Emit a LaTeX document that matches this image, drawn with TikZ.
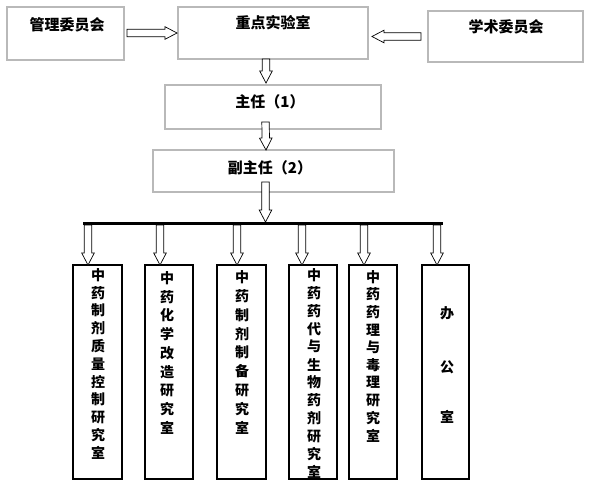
\documentclass[tikz,border=0pt]{standalone}
\usepackage{fontspec}
\newfontfamily\cjk{Noto Sans CJK SC}
\usetikzlibrary{calc}
\newcommand\ahs{3.7pt}
\newcommand\ahh{6.3pt}
\newcommand\ahl{12pt}
\tikzset{
  topbox/.style={draw=gray!55, line width=2pt, outer sep=0pt, inner sep=0pt},
  botbox/.style={draw=black, line width=1.1pt, outer sep=0pt, inner sep=0pt},
  toptext/.style={font=\cjk\bfseries\fontsize{15}{18}\selectfont, inner sep=0pt},
  bottext/.style={font=\cjk\bfseries\fontsize{14}{17}\selectfont, inner sep=0pt},
  bus/.style={line width=3pt},
  hollow/.style={draw=black, line width=0.7pt, fill=white, line join=miter,
    to path={let \p1=(\tikztostart), \p2=(\tikztotarget),
      \n1={atan2(\y2-\y1,\x2-\x1)}, \n2={veclen(\x2-\x1,\y2-\y1)} in
      ([shift={(\p1)},rotate=\n1]0pt,-\ahs)
      -- ([shift={(\p1)},rotate=\n1]{\n2-\ahl},-\ahs)
      -- ([shift={(\p1)},rotate=\n1]{\n2-\ahl},-\ahh)
      -- ([shift={(\p1)},rotate=\n1]{\n2},0pt)
      -- ([shift={(\p1)},rotate=\n1]{\n2-\ahl},\ahh)
      -- ([shift={(\p1)},rotate=\n1]{\n2-\ahl},\ahs)
      -- ([shift={(\p1)},rotate=\n1]0pt,\ahs) -- cycle}}
}
\begin{document}
\begin{tikzpicture}[x=1pt,y=-1pt]
\useasboundingbox[fill=white] (0,0) rectangle (591,496);
% top boxes
\node[topbox, minimum width=117, minimum height=53] (gl) at (65.5,33.5) {};
\node[topbox, minimum width=190, minimum height=52] (zd) at (273,33) {};
\node[topbox, minimum width=155, minimum height=51] (xs) at (505.5,36.5) {};
\node[topbox, minimum width=216, minimum height=44] (zr) at (273,107) {};
\node[topbox, minimum width=241, minimum height=42] (fzr) at (273.5,171) {};
\node[toptext] (glt) at (67,25) {管理委员会};
\node[toptext] (zdt) at (273,23) {重点实验室};
\node[toptext] (xst) at (506,27) {学术委员会};
\node[toptext] (zrt) at (270,102) {主任（1）};
\node[toptext] (fzrt) at (270,168) {副主任（2）};
% top arrows
\draw[hollow] ([xshift=3pt]gl.east |- zd.west) to ([xshift=-1pt]zd.west);
\draw[hollow] ([xshift=-7pt]xs.west) to ([xshift=4pt]zd.east |- xs.west);
\draw[hollow] ([xshift=-7pt]zd.south) to ([xshift=-7pt,yshift=2pt]zr.north);
\draw[hollow] ([xshift=-7.5pt,yshift=7pt]zr.south) to ([xshift=-7.5pt]fzr.north);
% bus
\coordinate (busL) at (83,223);
\coordinate (busR) at (443,223);
\coordinate (busIn) at (265.5,222);
\draw[hollow] ([xshift=-8pt,yshift=10pt]fzr.south) to (busIn);
\draw[bus] (busL) -- (busR);
% bottom boxes
\node[botbox, minimum width=49, minimum height=214] (b1) at (97.5,372) {};
\node[botbox, minimum width=48, minimum height=214] (b2) at (169,372) {};
\node[botbox, minimum width=49, minimum height=214] (b3) at (241.5,372) {};
\node[botbox, minimum width=48, minimum height=214] (b4) at (313,372) {};
\node[botbox, minimum width=48, minimum height=214] (b5) at (373,372) {};
\node[botbox, minimum width=47, minimum height=214] (b6) at (445.5,372) {};
% bottom arrows
\coordinate (s1) at (88,225);
\coordinate (s2) at (160,225);
\coordinate (s3) at (237,225);
\coordinate (s4) at (302,225);
\coordinate (s5) at (364,225);
\coordinate (s6) at (437,225);
\foreach \k in {1,...,6}{
  \draw[hollow] (s\k) to (b\k.north -| s\k);
}
% bottom texts
\foreach \c [count=\i] in {中,药,制,剂,质,量,控,制,研,究,室}
  \node[bottext] (ta\i) at (98,{275+17.8*(\i-1)}) {\c};
\foreach \c [count=\i] in {中,药,化,学,改,造,研,究,室}
  \node[bottext] (tb\i) at (167,{278+18.75*(\i-1)}) {\c};
\foreach \c [count=\i] in {中,药,制,剂,制,备,研,究,室}
  \node[bottext] (tc\i) at (242,{277+18.9*(\i-1)}) {\c};
\foreach \c [count=\i] in {中,药,药,代,与,生,物,药,剂,研,究,室}
  \node[bottext] (td\i) at (314,{275+17.9*(\i-1)}) {\c};
\foreach \c [count=\i] in {中,药,药,理,与,毒,理,研,究,室}
  \node[bottext] (te\i) at (373,{277+17.6*(\i-1)}) {\c};
\node[bottext] (tf1) at (447,313) {办};
\node[bottext] (tf2) at (447,367) {公};
\node[bottext] (tf3) at (447,417) {室};
\end{tikzpicture}
\end{document}
